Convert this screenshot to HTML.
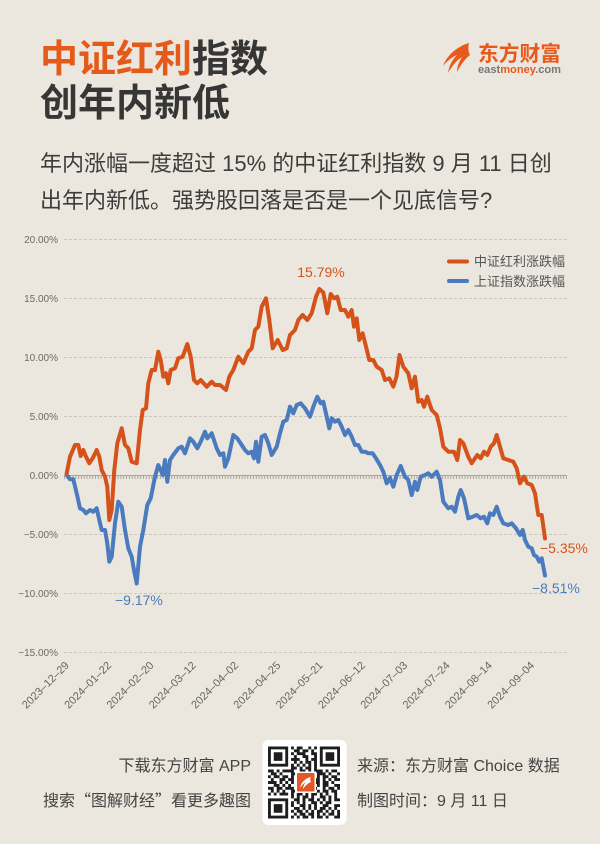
<!DOCTYPE html>
<html><head><meta charset="utf-8"><style>
html,body{margin:0;padding:0;background:#ebe7de;}
svg{display:block;}
text{font-family:"Liberation Sans","Noto Sans CJK SC",sans-serif;}
</style></head><body>
<svg xmlns="http://www.w3.org/2000/svg" width="600" height="844" viewBox="0 0 600 844">
<rect x="0" y="0" width="600" height="844" fill="#ebe7de"/>

<!-- Title -->
<text x="40" y="72" font-size="38" font-weight="bold" fill="#e35a1b">中证红利<tspan fill="#363636">指数</tspan></text>
<text x="40" y="116" font-size="38" font-weight="bold" fill="#363636">创年内新低</text>

<!-- Logo -->
<g fill="#e8591c">
<path d="M469,43 C458,46 447,55 443,66 C447,61 452,57 457,55 C452,60 449,66 448,73 C452,66 457,60 462,57 C459,62 457,67 457,72 C461,64 466,58 470,55 C468,51 468,47 469,43 Z"/>
</g>
<text x="478" y="61" font-size="21" font-weight="bold" fill="#e8591c" textLength="83" lengthAdjust="spacingAndGlyphs">东方财富</text>
<text x="478" y="73" font-size="10.8" font-weight="bold" fill="#777" textLength="83" lengthAdjust="spacingAndGlyphs">east<tspan fill="#e8591c">money</tspan>.com</text>

<!-- Subtitle -->
<text x="40" y="171" font-size="22" fill="#3c3c3c">年内涨幅一度超过 15% 的中证红利指数 9 月 11 日创</text>
<text x="40" y="208" font-size="22" fill="#3c3c3c">出年内新低。强势股回落是否是一个见底信号?</text>

<!-- Grid -->
<g stroke="#cbc6bc" stroke-width="1" stroke-dasharray="3,2" fill="none">
<line x1="64" y1="239.5" x2="567" y2="239.5"/>
<line x1="64" y1="298.5" x2="567" y2="298.5"/>
<line x1="64" y1="357.5" x2="567" y2="357.5"/>
<line x1="64" y1="416.5" x2="567" y2="416.5"/>
<line x1="64" y1="534.5" x2="567" y2="534.5"/>
<line x1="64" y1="593.5" x2="567" y2="593.5"/>
<line x1="64" y1="652.5" x2="567" y2="652.5"/>
</g>
<line x1="64" y1="475.5" x2="567" y2="475.5" stroke="#aaa59c" stroke-width="1"/>
<line x1="64" y1="477.5" x2="567" y2="477.5" stroke="#aaa59c" stroke-width="3" stroke-dasharray="1,1.82"/>

<!-- Y labels -->
<g font-size="10" fill="#6a6a6a" text-anchor="end">
<text x="58" y="243">20.00%</text>
<text x="58" y="302">15.00%</text>
<text x="58" y="361">10.00%</text>
<text x="58" y="420">5.00%</text>
<text x="58" y="479">0.00%</text>
<text x="58" y="538">−5.00%</text>
<text x="58" y="597">−10.00%</text>
<text x="58" y="656">−15.00%</text>
</g>

<!-- X labels -->
<g font-size="11" fill="#666" text-anchor="end">
<text transform="translate(69.7,666) rotate(-45)">2023–12–29</text>
<text transform="translate(112,666) rotate(-45)">2024–01–22</text>
<text transform="translate(154.3,666) rotate(-45)">2024–02–20</text>
<text transform="translate(196.6,666) rotate(-45)">2024–03–12</text>
<text transform="translate(238.9,666) rotate(-45)">2024–04–02</text>
<text transform="translate(281.2,666) rotate(-45)">2024–04–25</text>
<text transform="translate(323.5,666) rotate(-45)">2024–05–21</text>
<text transform="translate(365.8,666) rotate(-45)">2024–06–12</text>
<text transform="translate(408.1,666) rotate(-45)">2024–07–03</text>
<text transform="translate(450.4,666) rotate(-45)">2024–07–24</text>
<text transform="translate(492.7,666) rotate(-45)">2024–08–14</text>
<text transform="translate(535,666) rotate(-45)">2024–09–04</text>
</g>

<!-- Blue series -->
<polyline fill="none" stroke="#4a7bbe" stroke-width="4" stroke-linejoin="round" stroke-linecap="round" points="
66.7,475 70,479.3 73.3,479.3 76.7,493.3 80,508.3 83.3,510 86,513.3 90,510 93.3,511.7 96.7,508.3 99.3,520 101.7,530 105,530 107.3,543.3 109.3,561.7 111.7,556.7 115,523.3 118.3,501.7 121.7,506.7 125,530 128.3,548.3 131.7,556.7 134,570 136.7,583.5 140,546.7 143.3,530 147.3,505 150.7,498.3 155,476.7 158.3,465 160.7,470 162.7,475 165,460 167.3,481.7 170,460 173.3,455 178.3,448.3 181.7,446.7 185,453.3 190,438.3 193.3,441.7 197.3,448.3 200.7,441.7 205,431.7 207.3,438.3 211.7,433.3 216.7,448.3 220,455 223.3,453.3 225,466.7 228.3,458.3 233.3,435 237.3,438.3 241.7,445 245,450 248.3,453.3 251.7,451.7 254,458.3 256,441.7 258.3,461.7 261.7,436.7 265,435 268.3,443.3 271.7,455 276.7,446.7 280,433.3 283.3,421.7 286.7,420 290,406.7 293.3,413.3 296.7,405 300.7,403.3 305,408.3 310,416.7 313.3,406.7 317.3,396.7 320.7,403.3 323.3,401.7 326.7,416.7 329.3,428.3 331.7,418.3 335,421.7 338.3,420 341.7,426.7 345,435 348.3,430 351.7,436.7 355,445 358.3,445 361.7,451.7 365,451.7 368.3,453.3 372.7,453.3 376,458.3 380,465 383.3,471.7 386.7,483.3 390,478 393.3,486.7 396.7,475 400.7,466 405,476.7 408.3,480 411.7,495 415,481.7 417.3,490 420.7,476.7 425,475 428.3,473.3 431.7,476.7 436.7,471.7 440,480 443.3,501.7 448.3,508.3 451.7,506.7 455,511.7 458.3,496.7 460.7,490 464,498.3 468.3,518.3 472.7,516.7 476.7,515 480.7,518.3 484,516.7 487.3,523.3 490,513.3 493.3,515 496.7,506.7 500,516.7 503.3,523.3 508.3,525 511.7,523.3 516,528.3 520,535 522.7,530 525,540 528.3,546.7 531.7,548.3 534,555 536.7,556.7 539.3,561.7 541.7,558.3 545,575.5"/>

<!-- Orange series -->
<polyline fill="none" stroke="#d5531a" stroke-width="4" stroke-linejoin="round" stroke-linecap="round" points="
66.7,473.3 70,456.7 75,445 78.3,445 80.7,456 83.3,450 86,456.7 89.3,463.3 92.7,458.3 96.7,450 99.3,456.7 101.7,470 105,476.7 107.3,486.7 109.3,520 111.7,510 114.3,470 117.3,443.3 121.7,428.3 125,445 128.3,448.3 131.7,461.7 136.7,463.3 140,430 142.7,410 146,408.3 148.3,383.3 151.7,370 155,370 158.3,351.7 160.7,360 163.3,376.7 166,373.3 168.3,383.3 170.7,370 175,368.3 178.3,358.3 182.7,356.7 187.3,344 190.7,356.7 194,380 197.3,383.3 200.7,380 206.7,386.7 211.7,381.7 215,385 220,385 226,390 229.3,376.7 233.3,370 238.3,356.7 243.3,363.3 248.3,351.7 251.7,348.3 255,330 258.3,326.7 261.7,306.7 266,298.3 269.3,320 272.7,348.3 277.7,340 282.7,350 286.7,348.3 290,335 295,330 298.3,320 302.7,315 307.3,320 311.7,313.3 316,296.7 319.3,289 323.3,292.5 327.3,313.3 330.7,294 334,298.3 337.3,296.7 340.7,310 345,310 348.3,316.7 351.7,310 354,326.7 356.7,318.3 359.3,340 362.7,333.3 366,346.7 369.3,360 373.3,360 376.7,366.7 381.7,370 385,380 389.3,378.3 393.3,386.7 396.5,376.7 399.5,355 403.3,366.7 408.3,373.3 411.7,388.3 415,376.7 418.3,401.7 421.7,400 424,406.7 427.3,396.7 431.7,410 436.7,415 440,428.3 443.3,446.7 448.3,451.7 454,451.7 457.3,460 460,440 463.3,443.3 468.3,456.7 471.7,463.3 475,458.3 477.3,455 480.7,458.3 484,451.7 487.3,455 490.7,446.7 494,443.3 496.7,435 500,446.7 503.3,458.3 508.3,460 513.3,461.7 516.7,468.3 520,483.3 524,476.7 527.3,483.3 531.7,485 535,493.3 538.3,515 541.7,515 545,538.5"/>

<!-- Annotations -->
<g font-size="14">
<text x="321" y="277" text-anchor="middle" fill="#d5531a">15.79%</text>
<text x="115" y="605" fill="#4a7bbe">−9.17%</text>
<text x="540" y="553" fill="#d5531a">−5.35%</text>
<text x="532" y="593" fill="#4a7bbe">−8.51%</text>
</g>

<!-- Legend -->
<line x1="449" y1="261.5" x2="467" y2="261.5" stroke="#d5531a" stroke-width="4" stroke-linecap="round"/>
<line x1="449" y1="281" x2="467" y2="281" stroke="#4a7bbe" stroke-width="4" stroke-linecap="round"/>
<text x="474" y="266" font-size="13" fill="#555">中证红利涨跌幅</text>
<text x="474" y="286" font-size="13" fill="#555">上证指数涨跌幅</text>

<!-- Footer -->
<g font-size="16" fill="#444">
<text x="251" y="771" text-anchor="end">下载东方财富 APP</text>
<text x="251" y="806" text-anchor="end" style="font-family:'Noto Sans CJK SC',sans-serif">搜索“图解财经”看更多趣图</text>
<text x="357" y="771">来源：东方财富 Choice 数据</text>
<text x="357" y="806">制图时间：9 月 11 日</text>
</g>

<!-- QR -->
<rect x="262.5" y="740" width="84" height="85" rx="6" fill="#ffffff"/>
<g transform="translate(268,746.5) scale(2.88)" fill="#1e1e1e">
<path d="M0 0h7v1h-7zM8 0h1v1h-1zM10 0h2v1h-2zM14 0h1v1h-1zM16 0h1v1h-1zM18 0h7v1h-7z
M0 1h1v1h-1zM6 1h1v1h-1zM9 1h2v1h-2zM12 1h2v1h-2zM15 1h1v1h-1zM18 1h1v1h-1zM24 1h1v1h-1z
M0 2h1v1h-1zM2 2h3v1h-3zM6 2h1v1h-1zM8 2h1v1h-1zM10 2h3v1h-3zM15 2h2v1h-2zM18 2h1v1h-1zM20 2h3v1h-3zM24 2h1v1h-1z
M0 3h1v1h-1zM2 3h3v1h-3zM6 3h1v1h-1zM9 3h1v1h-1zM12 3h2v1h-2zM16 3h1v1h-1zM18 3h1v1h-1zM20 3h3v1h-3zM24 3h1v1h-1z
M0 4h1v1h-1zM2 4h3v1h-3zM6 4h1v1h-1zM8 4h3v1h-3zM13 4h1v1h-1zM15 4h2v1h-2zM18 4h1v1h-1zM20 4h3v1h-3zM24 4h1v1h-1z
M0 5h1v1h-1zM6 5h1v1h-1zM9 5h1v1h-1zM11 5h1v1h-1zM13 5h2v1h-2zM16 5h1v1h-1zM18 5h1v1h-1zM24 5h1v1h-1z
M0 6h7v1h-7zM8 6h1v1h-1zM10 6h1v1h-1zM12 6h1v1h-1zM14 6h1v1h-1zM16 6h1v1h-1zM18 6h7v1h-7z
M8 7h2v1h-2zM11 7h1v1h-1zM13 7h2v1h-2zM16 7h1v1h-1z
M0 8h2v1h-2zM3 8h1v1h-1zM5 8h1v1h-1zM6 8h3v1h-3zM11 8h2v1h-2zM14 8h1v1h-1zM16 8h3v1h-3zM20 8h1v1h-1zM22 8h2v1h-2z
M1 9h2v1h-2zM4 9h1v1h-1zM8 9h2v1h-2zM11 9h2v1h-2zM14 9h1v1h-1zM17 9h3v1h-3zM21 9h1v1h-1zM24 9h1v1h-1z
M0 10h1v1h-1zM2 10h2v1h-2zM5 10h2v1h-2zM8 10h1v1h-1zM15 10h1v1h-1zM17 10h1v1h-1zM19 10h2v1h-2zM22 10h2v1h-2z
M1 11h1v1h-1zM4 11h2v1h-2zM7 11h2v1h-2zM16 11h2v1h-2zM19 11h1v1h-1zM21 11h1v1h-1zM23 11h2v1h-2z
M0 12h3v1h-3zM4 12h1v1h-1zM6 12h1v1h-1zM8 12h1v1h-1zM16 12h2v1h-2zM19 12h2v1h-2zM22 12h1v1h-1z
M2 13h2v1h-2zM5 13h1v1h-1zM7 13h1v1h-1zM15 13h1v1h-1zM17 13h1v1h-1zM19 13h2v1h-2zM23 13h2v1h-2z
M0 14h2v1h-2zM3 14h2v1h-2zM6 14h3v1h-3zM16 14h1v1h-1zM19 14h1v1h-1zM21 14h2v1h-2zM24 14h1v1h-1z
M1 15h1v1h-1zM3 15h1v1h-1zM5 15h1v1h-1zM8 15h2v1h-2zM11 15h3v1h-3zM15 15h1v1h-1zM17 15h1v1h-1zM19 15h2v1h-2zM22 15h2v1h-2z
M0 16h1v1h-1zM2 16h1v1h-1zM4 16h3v1h-3zM8 16h1v1h-1zM10 16h2v1h-2zM13 16h1v1h-1zM15 16h2v1h-2zM18 16h1v1h-1zM20 16h1v1h-1zM23 16h1v1h-1z
M8 17h1v1h-1zM10 17h1v1h-1zM12 17h2v1h-2zM15 17h1v1h-1zM18 17h2v1h-2zM21 17h1v1h-1zM23 17h1v1h-1z
M0 18h7v1h-7zM9 18h2v1h-2zM12 18h1v1h-1zM14 18h2v1h-2zM17 18h1v1h-1zM19 18h1v1h-1zM21 18h1v1h-1zM23 18h2v1h-2z
M0 19h1v1h-1zM6 19h1v1h-1zM8 19h1v1h-1zM10 19h1v1h-1zM12 19h1v1h-1zM15 19h2v1h-2zM18 19h1v1h-1zM20 19h2v1h-2z
M0 20h1v1h-1zM2 20h3v1h-3zM6 20h1v1h-1zM8 20h1v1h-1zM11 20h2v1h-2zM14 20h1v1h-1zM16 20h1v1h-1zM19 20h2v1h-2zM23 20h2v1h-2z
M0 21h1v1h-1zM2 21h3v1h-3zM6 21h1v1h-1zM9 21h2v1h-2zM12 21h1v1h-1zM14 21h1v1h-1zM16 21h1v1h-1zM18 21h2v1h-2zM21 21h1v1h-1zM23 21h1v1h-1z
M0 22h1v1h-1zM2 22h3v1h-3zM6 22h1v1h-1zM8 22h1v1h-1zM10 22h2v1h-2zM13 22h1v1h-1zM15 22h1v1h-1zM17 22h2v1h-2zM20 22h1v1h-1zM22 22h1v1h-1zM24 22h1v1h-1z
M0 23h1v1h-1zM6 23h1v1h-1zM9 23h1v1h-1zM11 23h2v1h-2zM14 23h2v1h-2zM17 23h1v1h-1zM19 23h1v1h-1zM21 23h2v1h-2zM24 23h1v1h-1z
M0 24h7v1h-7zM8 24h1v1h-1zM10 24h1v1h-1zM12 24h2v1h-2zM15 24h1v1h-1zM17 24h2v1h-2zM20 24h1v1h-1zM23 24h2v1h-2z"/>
</g>
<rect x="295" y="771.5" width="21" height="21.5" fill="#ffffff"/>
<rect x="297" y="773" width="17.5" height="18.5" rx="1" fill="#e4572a"/>
<path d="M311,777 C306,778 301,782 300,788 C302,785 304,783 306,782 C304,784 303,787 303,789 C305,786 308,783 311,782 C310,780 310,778 311,777 Z" fill="#ffffff"/>
</svg>
</body></html>
